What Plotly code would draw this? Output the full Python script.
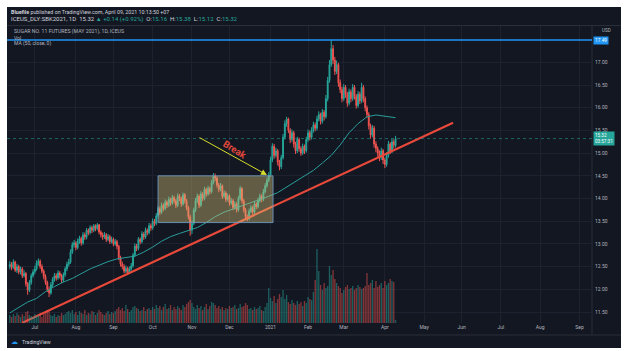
import pandas as pd
import plotly.graph_objects as go

# ---------------- data ----------------
start_date = "2020-06-11"   # first visible daily bar (bar index 0)

opens = [
    12.50, 12.55, 12.48, 12.60, 12.42, 12.50, 12.38, 12.45, 12.30, 12.35,
    12.12, 11.98, 12.15, 12.30, 12.38, 12.45, 12.58, 12.62, 12.50, 12.40,
    12.28, 12.15, 12.00, 11.92, 12.10, 12.22, 12.30, 12.25, 12.36, 12.30,
    12.20, 12.32, 12.45, 12.55, 12.60, 12.82, 12.98, 13.02, 12.92, 13.06,
    13.12, 13.02, 13.20, 13.15, 13.30, 13.25, 13.36, 13.30, 13.40, 13.34,
    13.42, 13.26, 13.20, 13.15, 13.20, 13.10, 13.16, 13.05, 13.10, 13.00,
    13.05, 12.95, 12.70, 12.56, 12.50, 12.40, 12.46, 12.36, 12.45, 12.52,
    12.75, 12.95, 12.90, 13.10, 13.05, 13.22, 13.15, 13.30, 13.25, 13.40,
    13.35, 13.50, 13.45, 13.62, 13.78, 13.70, 13.85, 13.78, 13.92, 13.85,
    13.98, 13.90, 14.02, 13.95, 13.85, 14.05, 14.00, 13.88, 14.08, 13.95,
    13.80, 13.60, 13.30, 13.45, 13.75, 13.95, 14.05, 13.85, 14.10, 14.00,
    14.20, 14.10, 14.22, 14.15, 14.35, 14.50, 14.45, 14.30, 14.20, 14.28,
    14.05, 14.12, 13.98, 14.05, 13.90, 13.95, 13.80, 13.88, 13.75, 14.00,
    14.22, 13.95, 13.75, 13.60, 13.55, 13.72, 13.80, 13.70, 13.88, 13.82,
    13.95, 14.05, 13.98, 14.15, 14.28, 14.40, 14.52, 14.85, 15.15, 14.95,
    15.05, 14.80, 14.70, 14.90, 15.35, 15.65, 15.75, 15.50, 15.30, 15.45,
    15.20, 15.05, 15.30, 15.10, 15.00, 15.15, 15.05, 15.30, 15.45, 15.35,
    15.50, 15.62, 15.55, 15.75, 15.85, 15.70, 15.90, 15.80, 16.20, 16.60,
    16.95, 17.30, 17.05, 16.80, 16.95, 16.55, 16.40, 16.20, 16.45, 16.30,
    16.10, 16.35, 16.20, 16.45, 16.25, 16.05, 16.30, 16.15, 16.45, 16.20,
    16.00, 15.85, 15.60, 15.40, 15.55, 15.20, 15.10, 15.00, 14.90, 15.05,
    14.85, 14.75, 14.95, 15.20, 15.05, 15.25, 15.16,
]
highs = [
    12.62, 12.60, 12.66, 12.63, 12.56, 12.54, 12.50, 12.49, 12.42, 12.38,
    12.16, 12.20, 12.35, 12.44, 12.52, 12.64, 12.68, 12.66, 12.55, 12.44,
    12.33, 12.19, 12.06, 12.16, 12.27, 12.36, 12.35, 12.42, 12.40, 12.34,
    12.37, 12.50, 12.61, 12.67, 12.88, 13.04, 13.09, 13.06, 13.12, 13.18,
    13.16, 13.26, 13.25, 13.35, 13.34, 13.41, 13.40, 13.44, 13.43, 13.46,
    13.44, 13.30, 13.25, 13.26, 13.24, 13.22, 13.20, 13.16, 13.14, 13.11,
    13.09, 12.98, 12.74, 12.61, 12.55, 12.52, 12.50, 12.50, 12.58, 12.80,
    13.01, 13.00, 13.15, 13.14, 13.28, 13.26, 13.36, 13.34, 13.46, 13.45,
    13.56, 13.55, 13.68, 13.84, 13.82, 13.91, 13.89, 13.98, 13.96, 14.04,
    14.02, 14.08, 14.06, 13.99, 14.11, 14.10, 14.04, 14.13, 14.12, 13.99,
    13.84, 13.64, 13.51, 13.80, 14.01, 14.11, 14.09, 14.16, 14.14, 14.26,
    14.24, 14.28, 14.26, 14.41, 14.56, 14.55, 14.49, 14.34, 14.34, 14.31,
    14.18, 14.16, 14.11, 14.09, 14.01, 13.99, 13.94, 13.92, 14.06, 14.28,
    14.25, 13.99, 13.79, 13.65, 13.78, 13.86, 13.84, 13.94, 13.92, 14.01,
    14.11, 14.09, 14.21, 14.34, 14.46, 14.58, 14.92, 15.22, 15.20, 15.12,
    15.09, 14.85, 14.96, 15.42, 15.72, 15.80, 15.78, 15.55, 15.52, 15.49,
    15.25, 15.36, 15.34, 15.15, 15.21, 15.19, 15.36, 15.52, 15.50, 15.57,
    15.69, 15.67, 15.82, 15.92, 15.89, 15.97, 15.95, 16.28, 16.68, 17.05,
    17.49, 17.38, 17.12, 17.04, 16.99, 16.62, 16.46, 16.52, 16.50, 16.35,
    16.42, 16.40, 16.52, 16.50, 16.30, 16.37, 16.35, 16.55, 16.50, 16.25,
    16.05, 15.90, 15.65, 15.62, 15.60, 15.26, 15.15, 15.06, 15.12, 15.09,
    14.90, 15.02, 15.27, 15.24, 15.32, 15.30, 15.38,
]
lows = [
    12.44, 12.42, 12.45, 12.38, 12.36, 12.33, 12.33, 12.25, 12.26, 12.06,
    11.88, 11.94, 12.10, 12.26, 12.33, 12.41, 12.52, 12.45, 12.35, 12.22,
    12.10, 11.94, 11.83, 11.88, 12.05, 12.17, 12.19, 12.21, 12.24, 12.14,
    12.16, 12.28, 12.40, 12.50, 12.56, 12.78, 12.92, 12.86, 12.88, 13.00,
    12.96, 12.98, 13.09, 13.10, 13.19, 13.21, 13.24, 13.26, 13.28, 13.30,
    13.21, 13.14, 13.09, 13.11, 13.04, 13.06, 13.00, 13.01, 12.95, 12.96,
    12.88, 12.64, 12.50, 12.44, 12.35, 12.36, 12.33, 12.34, 12.41, 12.48,
    12.71, 12.84, 12.86, 12.99, 13.01, 13.09, 13.11, 13.19, 13.21, 13.29,
    13.31, 13.39, 13.41, 13.58, 13.64, 13.66, 13.72, 13.74, 13.79, 13.81,
    13.84, 13.86, 13.89, 13.79, 13.81, 13.94, 13.82, 13.84, 13.89, 13.74,
    13.54, 13.18, 13.22, 13.41, 13.70, 13.90, 13.79, 13.81, 13.94, 13.96,
    14.04, 14.06, 14.09, 14.11, 14.31, 14.38, 14.24, 14.14, 14.16, 13.99,
    14.01, 13.92, 13.94, 13.84, 13.86, 13.74, 13.76, 13.69, 13.71, 13.96,
    13.89, 13.69, 13.54, 13.50, 13.52, 13.68, 13.64, 13.66, 13.76, 13.78,
    13.91, 13.92, 13.94, 14.11, 14.24, 14.36, 14.48, 14.80, 14.88, 14.90,
    14.73, 14.62, 14.65, 14.86, 15.30, 15.58, 15.44, 15.22, 15.25, 15.12,
    14.98, 15.00, 15.03, 14.94, 14.96, 14.98, 15.01, 15.25, 15.28, 15.30,
    15.45, 15.48, 15.50, 15.70, 15.63, 15.65, 15.72, 15.76, 16.14, 16.55,
    16.90, 16.96, 16.72, 16.74, 16.46, 16.32, 16.12, 16.15, 16.22, 16.02,
    16.05, 16.12, 16.15, 16.18, 15.98, 16.00, 16.08, 16.10, 16.12, 15.92,
    15.78, 15.52, 15.32, 15.35, 15.12, 15.02, 14.92, 14.82, 14.85, 14.76,
    14.67, 14.70, 14.90, 14.98, 15.00, 15.10, 15.12,
]
closes = [
    12.55, 12.48, 12.60, 12.42, 12.50, 12.38, 12.45, 12.30, 12.35, 12.12,
    11.98, 12.15, 12.30, 12.38, 12.45, 12.58, 12.62, 12.50, 12.40, 12.28,
    12.15, 12.00, 11.92, 12.10, 12.22, 12.30, 12.25, 12.36, 12.30, 12.20,
    12.32, 12.45, 12.55, 12.60, 12.82, 12.98, 13.02, 12.92, 13.06, 13.12,
    13.02, 13.20, 13.15, 13.30, 13.25, 13.36, 13.30, 13.40, 13.34, 13.42,
    13.26, 13.20, 13.15, 13.20, 13.10, 13.16, 13.05, 13.10, 13.00, 13.05,
    12.95, 12.70, 12.56, 12.50, 12.40, 12.46, 12.36, 12.45, 12.52, 12.75,
    12.95, 12.90, 13.10, 13.05, 13.22, 13.15, 13.30, 13.25, 13.40, 13.35,
    13.50, 13.45, 13.62, 13.78, 13.70, 13.85, 13.78, 13.92, 13.85, 13.98,
    13.90, 14.02, 13.95, 13.85, 14.05, 14.00, 13.88, 14.08, 13.95, 13.80,
    13.60, 13.30, 13.45, 13.75, 13.95, 14.05, 13.85, 14.10, 14.00, 14.20,
    14.10, 14.22, 14.15, 14.35, 14.50, 14.45, 14.30, 14.20, 14.28, 14.05,
    14.12, 13.98, 14.05, 13.90, 13.95, 13.80, 13.88, 13.75, 14.00, 14.22,
    13.95, 13.75, 13.60, 13.55, 13.72, 13.80, 13.70, 13.88, 13.82, 13.95,
    14.05, 13.98, 14.15, 14.28, 14.40, 14.52, 14.85, 15.15, 14.95, 15.05,
    14.80, 14.70, 14.90, 15.35, 15.65, 15.75, 15.50, 15.30, 15.45, 15.20,
    15.05, 15.30, 15.10, 15.00, 15.15, 15.05, 15.30, 15.45, 15.35, 15.50,
    15.62, 15.55, 15.75, 15.85, 15.70, 15.90, 15.80, 16.20, 16.60, 16.95,
    17.30, 17.05, 16.80, 16.95, 16.55, 16.40, 16.20, 16.45, 16.30, 16.10,
    16.35, 16.20, 16.45, 16.25, 16.05, 16.30, 16.15, 16.45, 16.20, 16.00,
    15.85, 15.60, 15.40, 15.55, 15.20, 15.10, 15.00, 14.90, 15.05, 14.85,
    14.75, 14.95, 15.20, 15.05, 15.25, 15.18, 15.32,
]
volumes_k = [
    16, 12, 18, 14, 20, 16, 12, 18, 14, 22, 24, 16, 14, 12,
    18, 14, 16, 20, 12, 18, 22, 26, 24, 16, 14, 18, 12, 16, 14, 20, 16, 18, 22, 24, 20, 26, 18,
    22, 16, 24, 20, 18, 26, 16, 20, 18, 24, 22, 16, 20, 26, 22, 18, 16, 20, 24, 18, 22,
    20, 24, 28, 32, 26, 30, 24, 36, 28, 22, 26, 32, 34, 30, 28, 24, 26, 32, 24, 28, 30, 26,
    32, 28, 36, 30, 34, 26, 32, 38, 28, 30, 36, 26, 32, 28, 34, 30, 26, 36, 32, 38, 42, 46,
    40, 32, 28, 36, 30, 34, 26, 32, 38, 28, 34, 42, 40, 36, 30, 34, 28, 32, 26, 30, 28,
    34, 30, 32, 36, 28, 30, 38, 32, 34, 40, 36, 28, 30, 26, 32, 28, 30, 34, 26, 24, 32, 40, 70,
    50, 44, 54, 40, 48, 58, 52, 66, 48, 56, 42, 38, 46, 40, 36, 44, 38, 42, 34, 44, 40,
    52, 48, 46, 62, 86, 148, 104, 76, 66, 80, 70, 74, 114, 96, 106, 88, 80, 74, 70, 60,
    66, 72, 76, 68, 70, 74, 66, 70, 76, 72, 68, 70, 74, 100, 76, 80, 86, 70, 84, 72, 76, 80, 70,
    84, 76, 80, 88, 84, 82, 6,
]
ma50_idx = list(range(0, 216, 5)) + [216]
ma50_vals = [
    11.48, 11.60, 11.72, 11.80, 11.95, 12.06, 12.16, 12.24, 12.35, 12.45,
    12.53, 12.61, 12.67, 12.70, 12.73, 12.82, 12.93, 13.06, 13.16, 13.23,
    13.30, 13.36, 13.47, 13.60, 13.70, 13.77, 13.84, 13.90, 13.98, 14.05,
    14.13, 14.25, 14.38, 14.50, 14.62, 14.78, 14.95, 15.18, 15.45, 15.65,
    15.80, 15.84, 15.81, 15.78, 15.78,
]
month_labels = ["Jul", "Aug", "Sep", "Oct", "Nov", "Dec", "2021", "Feb",
                "Mar", "Apr", "May", "Jun", "Jul", "Aug", "Sep"]
month_starts = ["2020-07-01", "2020-08-01", "2020-09-01", "2020-10-01",
                "2020-11-01", "2020-12-01", "2021-01-01", "2021-02-01",
                "2021-03-01", "2021-04-01", "2021-05-01", "2021-06-01",
                "2021-07-01", "2021-08-01", "2021-09-01"]
price_ticks = [11.5, 12.0, 12.5, 13.0, 13.5, 14.0, 14.5, 15.0, 15.5, 16.0, 16.5, 17.0]
resistance = 17.49
trend_idx = [6.8, 248.2]
trend_price = [11.26, 15.67]
box_idx = [83, 147.4]
box_price = [13.47, 14.50]
arrow_idx = [105.4, 144.0]
arrow_price = [15.36, 14.52]
break_idx, break_price = 126.0, 15.07
countdown = "03:57:31"

# ---------------- geometry ----------------
W_PAGE, H_PAGE = 627, 351
ML, MR, MT, MB = 7, 35, 26, 28
PW = W_PAGE - ML - MR
PH = H_PAGE - MT - MB


def px_x(px):
    return (px - ML) / PW


def px_y(py):
    return (MT + PH - py) / PH


n = min(len(opens), len(highs), len(lows), len(closes), len(volumes_k))
idx = list(range(n))
bdays = pd.bdate_range(start_date, "2021-10-15")
tick_idx = [int((bdays < pd.Timestamp(m)).sum()) for m in month_starts]

UP, DN = "#26a69a", "#ef5350"
BG = "#131722"
GRID = "#1e2230"
TXT = "#b2b5be"
FONT = "Roboto"

vol_colors = ["rgba(38,166,154,0.5)" if closes[i] >= opens[i] else "rgba(239,83,80,0.5)"
              for i in idx]

fig = go.Figure()
fig.add_trace(go.Bar(x=idx, y=volumes_k[:n], marker=dict(color=vol_colors, line=dict(width=0)),
                     width=0.75, yaxis="y2", hoverinfo="skip", showlegend=False))
fig.add_trace(go.Scatter(x=ma50_idx, y=ma50_vals, mode="lines",
                         line=dict(color="#2a9d9a", width=1), hoverinfo="skip", showlegend=False))
fig.add_trace(go.Candlestick(
    x=idx, open=opens[:n], high=highs[:n], low=lows[:n], close=closes[:n],
    increasing=dict(line=dict(color=UP, width=1), fillcolor=UP),
    decreasing=dict(line=dict(color=DN, width=1), fillcolor=DN),
    whiskerwidth=0, hoverinfo="skip", showlegend=False))
fig.add_trace(go.Scatter(x=trend_idx, y=trend_price, mode="lines",
                         line=dict(color="#e8493a", width=2.2), hoverinfo="skip", showlegend=False))

shapes = [
    dict(type="rect", xref="paper", yref="paper", x0=px_x(7), x1=px_x(621), y0=px_y(348), y1=px_y(7),
         fillcolor=BG, line=dict(width=0), layer="below"),
    dict(type="line", xref="paper", yref="paper", x0=px_x(7), x1=px_x(621), y0=px_y(25.5), y1=px_y(25.5),
         line=dict(color="#2a2e39", width=1), layer="below"),
    dict(type="line", xref="paper", yref="paper", x0=1, x1=1, y0=px_y(335), y1=px_y(25.5),
         line=dict(color="#2a2e39", width=1), layer="below"),
    dict(type="line", xref="paper", yref="paper", x0=px_x(7), x1=px_x(621), y0=px_y(335), y1=px_y(335),
         line=dict(color="#2a2e39", width=1), layer="below"),
    dict(type="rect", xref="x", yref="y", x0=box_idx[0], x1=box_idx[1], y0=box_price[0], y1=box_price[1],
         fillcolor="rgba(225,205,120,0.38)", line=dict(color="rgba(110,150,190,0.9)", width=1), layer="above"),
    dict(type="line", xref="paper", yref="y", x0=0, x1=1, y0=resistance, y1=resistance,
         line=dict(color="#2196f3", width=1.6)),
    dict(type="line", xref="paper", yref="y", x0=0, x1=1, y0=closes[n - 1], y1=closes[n - 1],
         line=dict(color="rgba(38,166,154,0.55)", width=1, dash="dot")),
]

chg = closes[n - 1] - closes[n - 2]
pct = chg / closes[n - 2] * 100
G = "#26a69a"
line2 = (f"ICEUS_DLY:SBK2021, 1D  {closes[n-1]:.2f} <span style='color:{G}'>▲</span> "
         f"<span style='color:{G}'>+{chg:.2f} (+{pct:.2f}%)</span>  "
         f"O:<span style='color:{G}'>{opens[n-1]:.2f}</span>  "
         f"H:<span style='color:{G}'>{highs[n-1]:.2f}</span>  "
         f"L:<span style='color:{G}'>{lows[n-1]:.2f}</span>  "
         f"C:<span style='color:{G}'>{closes[n-1]:.2f}</span>")


def txt(px, py, text, size=4.6, color=TXT, **kw):
    return dict(xref="paper", yref="paper", x=px_x(px), y=px_y(py), text=text, showarrow=False,
                xanchor="left", yanchor="middle", font=dict(family=FONT, size=size, color=color), **kw)


annotations = [
    txt(9, 12, "<b>Bluefile</b> published on TradingView.com, April 09, 2021 10:13:50 +07", 5.3, "#d1d4dc"),
    txt(9, 19, line2, 6.0, "#d1d4dc"),
    txt(12, 31, "SUGAR NO. 11 FUTURES (MAY 2021), 1D, ICEUS", 5.2),
    txt(12, 37.5, "Vol", 5.0),
    txt(12, 44, "MA (50, close, 0)", 5.0),
    txt(600, 30, "USD", 4.6),
    txt(20, 342, "TradingView", 5.2, "#d1d4dc"),
    txt(9, 342, "☁", 7, "#2196f3"),
    dict(xref="paper", yref="y", x=1.0, y=resistance, text=f"{resistance:.2f}", showarrow=False,
         xanchor="left", yanchor="middle", xshift=1, bgcolor="#2196f3", borderpad=1,
         font=dict(family=FONT, size=4.8, color="white")),
    dict(xref="paper", yref="y", x=1.0, y=closes[n - 1], text=f"{closes[n-1]:.2f}<br>{countdown}",
         showarrow=False, xanchor="left", yanchor="middle", xshift=1, bgcolor=G, borderpad=1, align="left",
         font=dict(family=FONT, size=4.6, color="white")),
    dict(x=arrow_idx[1], y=arrow_price[1], ax=arrow_idx[0], ay=arrow_price[0], xref="x", yref="y",
         axref="x", ayref="y", text="", showarrow=True, arrowhead=2, arrowsize=1.2, arrowwidth=1,
         arrowcolor="#d8dc2c", standoff=0),
    dict(x=break_idx, y=break_price, xref="x", yref="y", text="<b>Break</b>", showarrow=False,
         textangle=32, font=dict(family=FONT, size=9.5, color="#e0483a")),
]

fig.update_layout(
    width=W_PAGE, height=H_PAGE,
    margin=dict(l=ML, r=MR, t=MT, b=MB, pad=0),
    paper_bgcolor="white", plot_bgcolor="rgba(0,0,0,0)",
    shapes=shapes, annotations=annotations, showlegend=False,
    font=dict(family=FONT, size=5, color=TXT),
    xaxis=dict(range=[-1.57, 326], tickmode="array", tickvals=tick_idx, ticktext=month_labels,
               showgrid=True, gridcolor=GRID, gridwidth=1, zeroline=False, showline=False,
               ticks="", tickfont=dict(family=FONT, size=5, color=TXT), rangeslider=dict(visible=False),
               fixedrange=True),
    yaxis=dict(range=[11.258, 17.80], side="right", tickmode="array", tickvals=price_ticks,
               tickformat=".2f", showgrid=True, gridcolor=GRID, zeroline=False, showline=False,
               ticks="", ticklabelstandoff=2, tickfont=dict(family=FONT, size=5, color=TXT), fixedrange=True),
    yaxis2=dict(range=[0, 594], overlaying="y", visible=False, fixedrange=True),
    bargap=0.25,
)

fig.write_html("out.html", config={"displayModeBar": False})
